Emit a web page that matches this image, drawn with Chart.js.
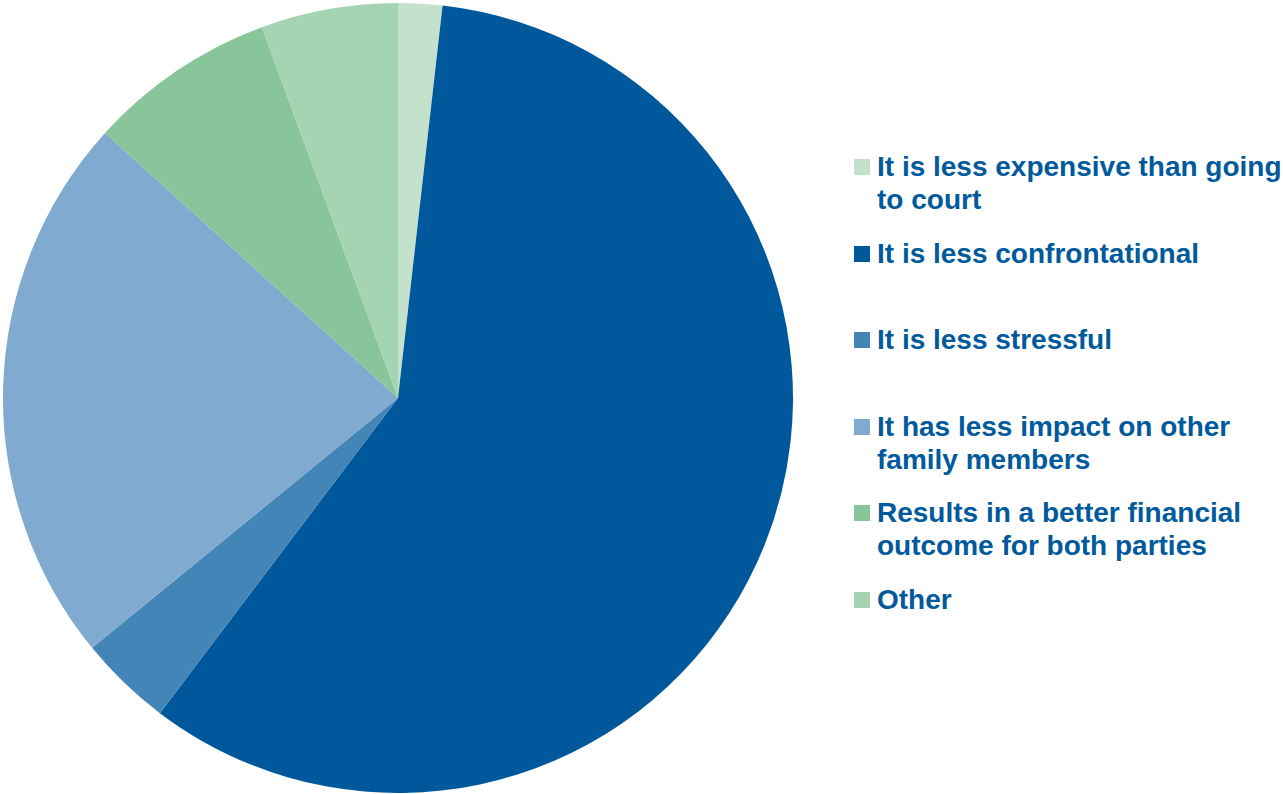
<!DOCTYPE html>
<html>
<head>
<meta charset="utf-8">
<script src="https://cdn.jsdelivr.net/npm/chart.js@4"></script>
<style>
    html, body { margin: 0; padding: 0; background: #ffffff; }
    #wrap { position: relative; width: 1283px; height: 794px; overflow: hidden; }
    #pieBox { position: absolute; left: 3px; top: 3px; width: 790px; height: 790px; }
    #legend {
        position: absolute; left: 854px; top: 150px; width: 429px;
        font-family: "Liberation Sans", Arial, sans-serif; font-weight: 700;
        font-size: 28px; line-height: 33px; color: #005a9c; white-space: nowrap;
    }
    .item { position: relative; height: 86.5px; padding-left: 23px; }
    .swatch { position: absolute; left: 0; top: 9px; width: 16px; height: 16px; }
</style>
</head>
<body>
<div id="wrap">
    <div id="pieBox"><canvas id="reasonsChart"></canvas></div>
    <div id="legend"></div>
</div>
<script>
const categories = [
    'It is less expensive than going to court',
    'It is less confrontational',
    'It is less stressful',
    'It has less impact on other family members',
    'Results in a better financial outcome for both parties',
    'Other'
];
const shares = [1.8, 58.5, 3.8, 22.6, 7.7, 5.6];
const sliceColors = ['#c4e2cb', '#00589c', '#4485b8', '#80aacf', '#88c59a', '#a5d4b2'];
// legend text as wrapped in the original
const legendLines = [
    ['It is less expensive than going', 'to court'],
    ['It is less confrontational'],
    ['It is less stressful'],
    ['It has less impact on other', 'family members'],
    ['Results in a better financial', 'outcome for both parties'],
    ['Other']
];

document.addEventListener('DOMContentLoaded', function () {
    const legend = document.getElementById('legend');
    categories.forEach(function (label, i) {
        const item = document.createElement('div');
        item.className = 'item';
        const sw = document.createElement('span');
        sw.className = 'swatch';
        sw.style.background = sliceColors[i];
        item.appendChild(sw);
        legendLines[i].forEach(function (line) {
            const d = document.createElement('div');
            d.textContent = line;
            item.appendChild(d);
        });
        legend.appendChild(item);
    });

    new Chart(document.getElementById('reasonsChart'), {
        type: 'pie',
        data: {
            labels: categories,
            datasets: [{
                data: shares,
                backgroundColor: sliceColors,
                borderWidth: 0
            }]
        },
        options: {
            responsive: true,
            maintainAspectRatio: false,
            animation: false,
            layout: { padding: 0 },
            plugins: {
                legend: { display: false },
                tooltip: { enabled: false }
            }
        }
    });
});
</script>
</body>
</html>
